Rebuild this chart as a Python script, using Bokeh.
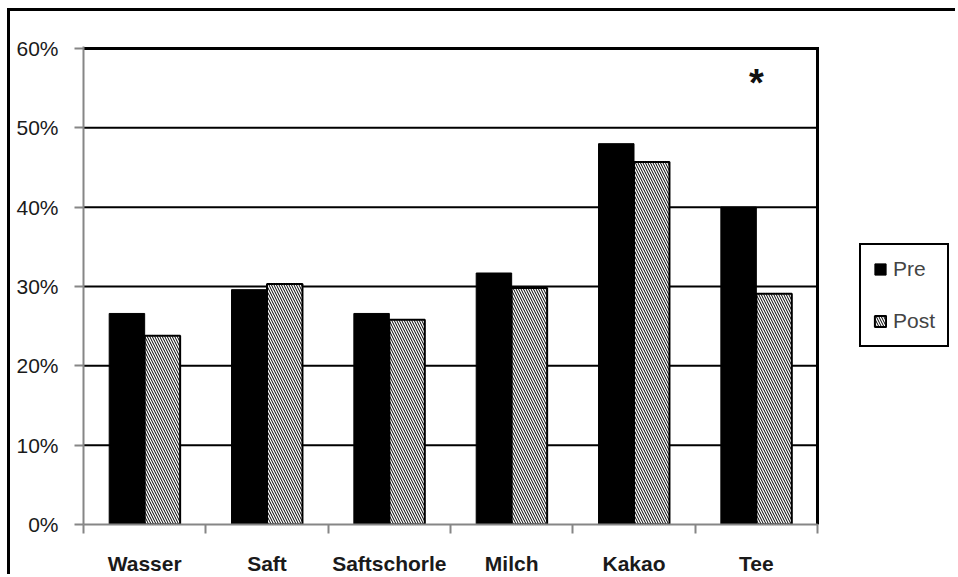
from bokeh.plotting import figure
from bokeh.models import (Range1d, FixedTicker, NumeralTickFormatter,
                          Legend, LegendItem)
from bokeh.core.properties import value
from bokeh.embed import file_html
from bokeh.resources import INLINE

categories = ["Wasser", "Saft", "Saftschorle", "Milch", "Kakao", "Tee"]
pre = [0.266, 0.296, 0.266, 0.317, 0.480, 0.400]
post = [0.238, 0.303, 0.258, 0.298, 0.457, 0.291]
significance = ["", "", "", "", "", "*"]
y_ticks = [0.0, 0.1, 0.2, 0.3, 0.4, 0.5, 0.6]
series_names = ["Pre", "Post"]

FONT = "Liberation Sans"
GRAY = "#868686"

n = len(categories)
centers = [i + 0.5 for i in range(n)]
x_pre = [c - 0.145 for c in centers]
x_post = [c + 0.145 for c in centers]
y_max = y_ticks[-1]

# canvas is shifted by the CSS border/margin (10px left, 11px top)
p = figure(width=948, height=566,
           x_range=Range1d(0, n * 875 / 734),
           y_range=Range1d(0, y_max * 483 / 481),
           output_backend="svg", toolbar_location=None,
           min_border_left=73, min_border_right=0,
           min_border_top=35, min_border_bottom=48)
p.outline_line_color = None
p.background_fill_color = "white"
p.border_fill_color = "white"
p.styles = {"margin-left": "7px", "margin-top": "8px",
            "border-left": "3px solid black", "border-top": "3px solid black"}

p.xgrid.visible = False
p.ygrid.visible = False

# horizontal grid lines, limited to the plot area
grid_y = y_ticks[1:-1]
p.segment(x0=[0] * len(grid_y), x1=[n] * len(grid_y), y0=grid_y, y1=grid_y,
          line_color="black", line_width=2)

r_pre = p.vbar(x=x_pre, top=pre, width=0.29, fill_color="black",
               line_color="black", line_width=1)
r_post = p.vbar(x=x_post, top=post, width=0.29, fill_color="white",
                line_color="black", line_width=2,
                hatch_pattern="\\", hatch_color="black",
                hatch_scale=5, hatch_weight=1)

# top and right plot-area border
p.segment(x0=[0, n], x1=[n, n], y0=[y_max, 0], y1=[y_max, y_max],
          line_color="black", line_width=3, line_cap="square")

p.text(x=centers, y=[0.556] * n, text=significance,
       text_font=value(FONT), text_font_style="bold", text_font_size="38px",
       text_align="center", text_baseline="middle", text_color="#111111")

# y axis
ya = p.yaxis[0]
ya.ticker = FixedTicker(ticks=y_ticks)
ya.formatter = NumeralTickFormatter(format="0%")
ya.axis_line_color = GRAY
ya.axis_line_width = 2
ya.major_tick_line_color = GRAY
ya.major_tick_line_width = 2
ya.major_tick_out = 9
ya.major_tick_in = 0
ya.minor_tick_line_color = None
ya.major_label_standoff = 16
ya.major_label_text_font = FONT
ya.major_label_text_font_size = "21px"
ya.major_label_text_color = "#1a1a1a"

# x axis
xa = p.xaxis[0]
xa.bounds = (0, n)
xa.ticker = FixedTicker(ticks=centers, minor_ticks=list(range(n + 1)))
xa.major_label_overrides = {c: lab for c, lab in zip(centers, categories)}
xa.axis_line_color = GRAY
xa.axis_line_width = 2
xa.major_tick_line_color = None
xa.major_tick_out = 0
xa.major_tick_in = 0
xa.minor_tick_line_color = GRAY
xa.minor_tick_line_width = 2
xa.minor_tick_out = 9
xa.minor_tick_in = 0
xa.major_label_standoff = 18
xa.major_label_text_font = FONT
xa.major_label_text_font_style = "bold"
xa.major_label_text_font_size = "21px"
xa.major_label_text_color = "#1a1a1a"

legend = Legend(items=[LegendItem(label=series_names[0], renderers=[r_pre]),
                       LegendItem(label=series_names[1], renderers=[r_post])],
                location=(776, 177))
legend.border_line_color = "black"
legend.border_line_alpha = 1
legend.border_line_width = 2
legend.padding = 12
legend.spacing = 28
legend.glyph_width = 14
legend.glyph_height = 14
legend.label_standoff = 6
legend.label_text_font = FONT
legend.label_text_font_size = "21px"
legend.label_height = 20
legend.margin = 0
legend.background_fill_color = "white"
legend.background_fill_alpha = 1
p.add_layout(legend, "center")

open("out.html", "w").write(file_html(p, INLINE))
